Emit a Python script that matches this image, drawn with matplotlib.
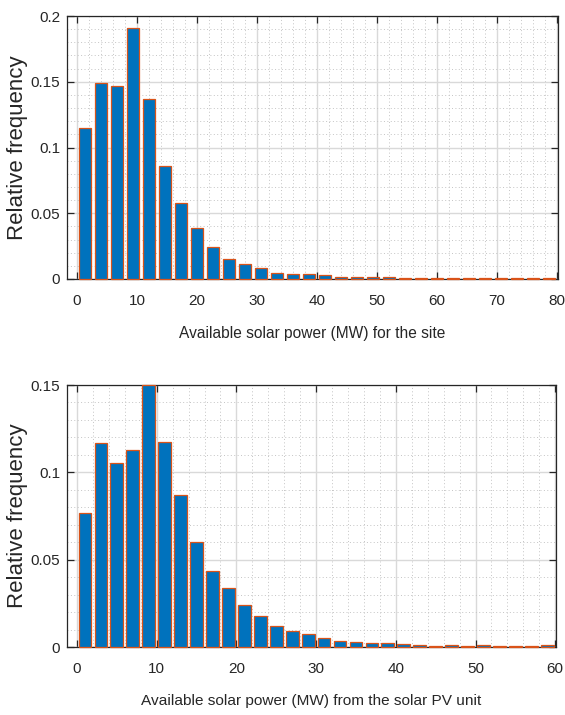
import numpy as np
import matplotlib
matplotlib.use('Agg')
import matplotlib.pyplot as plt
from matplotlib.ticker import MultipleLocator, FixedFormatter, FixedLocator

# relative frequency per bin
site_range = (0, 80)
site_freq = [0.1146, 0.1493, 0.1465, 0.1906, 0.1369, 0.0862, 0.0578, 0.0385,
             0.0246, 0.0155, 0.0112, 0.0084, 0.0046, 0.0038, 0.0038, 0.0028,
             0.0018, 0.0013, 0.0015, 0.0018, 0.0010, 0.0008, 0.0006, 0.0008,
             0.0007, 0.0006, 0.0007, 0.0008, 0.0008, 0.0006]
site_xticks = [0, 10, 20, 30, 40, 50, 60, 70, 80]
site_yticks = [0, 0.05, 0.1, 0.15, 0.2]
site_ylabels = ['0', '0.05', '0.1', '0.15', '0.2']

pv_range = (0, 60)
pv_freq = [0.0770, 0.1168, 0.1056, 0.1128, 0.1498, 0.1172, 0.0873, 0.0604,
           0.0438, 0.0339, 0.0240, 0.0175, 0.0118, 0.0091, 0.0075, 0.0051,
           0.0034, 0.0028, 0.0022, 0.0025, 0.0015, 0.0011, 0.0008, 0.0009,
           0.0008, 0.0009, 0.0008, 0.0005, 0.0008, 0.0012]
pv_xticks = [0, 10, 20, 30, 40, 50, 60]
pv_yticks = [0, 0.05, 0.1, 0.15]
pv_ylabels = ['0', '0.05', '0.1', '0.15']

BLUE = '#0072BD'
ORANGE = '#D95319'
FONT = ['Liberation Sans', 'DejaVu Sans']
INK = '#262626'


def draw_hist(ax, freq, rng, xlim, xticks, yticks, ylabels, xlabel, xlabel_size):
    n = len(freq)
    edges = np.linspace(rng[0], rng[1], n + 1)
    centers = (edges[:-1] + edges[1:]) / 2
    width = (edges[1] - edges[0]) * 0.8
    ax.bar(centers, freq, width=width, color=BLUE, edgecolor=ORANGE,
           linewidth=0.9, zorder=3, clip_on=False)

    ax.set_xlim(*xlim)
    ax.set_ylim(0, yticks[-1])
    ax.xaxis.set_major_locator(FixedLocator(xticks))
    ax.yaxis.set_major_locator(FixedLocator(yticks))
    ax.yaxis.set_major_formatter(FixedFormatter(ylabels))
    ax.xaxis.set_minor_locator(MultipleLocator(2))
    ax.yaxis.set_minor_locator(MultipleLocator(0.01))

    ax.set_axisbelow(True)
    ax.grid(which='major', color='#d9d9d9', linewidth=1.0, linestyle='-')
    ax.grid(which='minor', color='#c4c4c4', linewidth=0.7, linestyle=(0, (1, 2.5)))

    ax.tick_params(which='major', direction='in', length=5, width=0.9,
                   top=True, right=True, colors=INK, labelsize=11)
    ax.tick_params(which='minor', length=0)
    ax.tick_params(axis='x', pad=11)
    ax.tick_params(axis='y', pad=5)
    for lab in ax.get_xticklabels() + ax.get_yticklabels():
        lab.set_family(FONT)
        lab.set_color(INK)
    for sp in ax.spines.values():
        sp.set_color(INK)
        sp.set_linewidth(0.9)

    ax.set_ylabel('Relative frequency', family=FONT, fontsize=16, color=INK)
    ax.yaxis.set_label_coords(-0.08, 0.5)
    ax.set_xlabel(xlabel, family=FONT, fontsize=xlabel_size, color=INK,
                  labelpad=13)


fig = plt.figure(figsize=(5.65, 7.15), dpi=100)
ax1 = fig.add_axes([0.1186, 0.6098, 0.869, 0.3678])
ax2 = fig.add_axes([0.1186, 0.0951, 0.8655, 0.3664])

draw_hist(ax1, site_freq, site_range, (-1.67, 80.17), site_xticks,
          site_yticks, site_ylabels, 'Available solar power (MW) for the site', 11.2)
draw_hist(ax2, pv_freq, pv_range, (-1.25, 60.1), pv_xticks,
          pv_yticks, pv_ylabels, 'Available solar power (MW) from the solar PV unit', 11.1)

fig.savefig('out.png', dpi=100)
